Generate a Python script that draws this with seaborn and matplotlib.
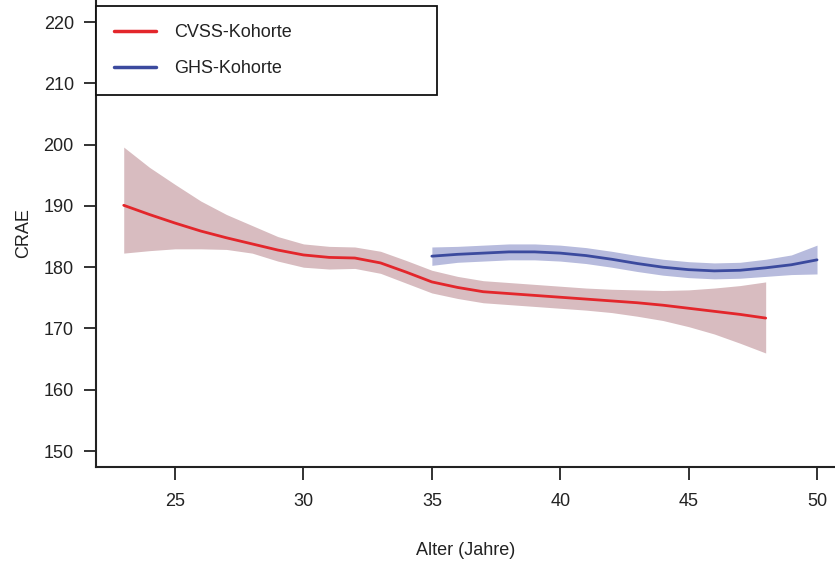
import numpy as np
import pandas as pd
import matplotlib
matplotlib.use("Agg")
import matplotlib.pyplot as plt
import seaborn as sns
from matplotlib.lines import Line2D

# ---- data ----
cvss_age = [23, 24, 25, 26, 27, 28, 29, 30, 31, 32, 33, 34, 35, 36, 37, 38, 39, 40,
            41, 42, 43, 44, 45, 46, 47, 48]
cvss_mean = [190.1, 188.6, 187.2, 185.9, 184.8, 183.8, 182.8, 182.0, 181.6, 181.5,
             180.7, 179.2, 177.6, 176.7, 176.0, 175.7, 175.4, 175.1, 174.8, 174.5,
             174.2, 173.8, 173.3, 172.8, 172.3, 171.7]
cvss_upper = [199.6, 196.3, 193.5, 190.8, 188.6, 186.8, 185.0, 183.8, 183.4, 183.3,
              182.6, 181.1, 179.5, 178.5, 177.8, 177.5, 177.2, 176.9, 176.6, 176.4,
              176.3, 176.2, 176.3, 176.6, 177.0, 177.6]
cvss_lower = [182.3, 182.7, 183.0, 183.0, 182.9, 182.3, 181.0, 180.0, 179.7, 179.8,
              179.0, 177.4, 175.8, 174.9, 174.2, 173.9, 173.6, 173.3, 173.0, 172.6,
              172.0, 171.3, 170.3, 169.1, 167.6, 166.0]

ghs_age = [35, 36, 37, 38, 39, 40, 41, 42, 43, 44, 45, 46, 47, 48, 49, 50]
ghs_mean = [181.8, 182.1, 182.3, 182.5, 182.5, 182.3, 181.9, 181.3, 180.6, 180.0,
            179.6, 179.4, 179.5, 179.9, 180.4, 181.2]
ghs_upper = [183.3, 183.4, 183.6, 183.8, 183.8, 183.6, 183.2, 182.6, 181.9, 181.3,
             180.9, 180.7, 180.8, 181.3, 182.0, 183.6]
ghs_lower = [180.3, 180.8, 181.0, 181.2, 181.2, 181.0, 180.6, 180.0, 179.3, 178.7,
             178.3, 178.1, 178.2, 178.5, 178.8, 178.9]

series_names = ["CVSS-Kohorte", "GHS-Kohorte"]
x_ticks = [25, 30, 35, 40, 45, 50]
y_ticks = [150, 160, 170, 180, 190, 200, 210, 220]
x_label = "Alter (Jahre)"
y_label = "CRAE"

# ---- styling ----
sns.set_theme(style="ticks")
plt.rcParams["font.family"] = ["Liberation Sans", "DejaVu Sans"]

line_colors = {"CVSS-Kohorte": "#e3262b", "GHS-Kohorte": "#3b4a9e"}
band_colors = {"CVSS-Kohorte": "#d8bcc0", "GHS-Kohorte": "#b7bbdd"}
txt = "#222222"
fs = 13

df = pd.concat([
    pd.DataFrame({"Alter": cvss_age, "CRAE": cvss_mean, "lo": cvss_lower,
                  "hi": cvss_upper, "Kohorte": series_names[0]}),
    pd.DataFrame({"Alter": ghs_age, "CRAE": ghs_mean, "lo": ghs_lower,
                  "hi": ghs_upper, "Kohorte": series_names[1]}),
], ignore_index=True)

fig = plt.figure(figsize=(8.35, 5.61), dpi=100)
ax = fig.add_axes([96 / 835, (561 - 467) / 561, 1 - 96 / 835, 467 / 561])

for name in series_names:
    sub = df[df["Kohorte"] == name]
    ax.fill_between(sub["Alter"], sub["lo"], sub["hi"], color=band_colors[name],
                    linewidth=0, zorder=1)

sns.lineplot(data=df, x="Alter", y="CRAE", hue="Kohorte", hue_order=series_names,
             palette=line_colors, linewidth=2.0, ax=ax, legend=False, zorder=3,
             sort=True, estimator=None)

ax.set_xlim(21.92, 50.7)
ax.set_ylim(147.4, 223.6)
ax.set_xticks(x_ticks)
ax.set_yticks(y_ticks)
ax.set_xticklabels([str(v) for v in x_ticks])
ax.set_yticklabels([str(v) for v in y_ticks])
ax.tick_params(axis="both", direction="out", length=9, width=1.3, colors=txt,
               labelsize=fs, labelcolor=txt)
ax.tick_params(axis="x", pad=10)
ax.tick_params(axis="y", pad=7)
for side in ["top", "right"]:
    ax.spines[side].set_visible(False)
for side in ["left", "bottom"]:
    ax.spines[side].set_linewidth(1.5)
    ax.spines[side].set_color(txt)

ax.set_xlabel(x_label, fontsize=fs, color=txt, labelpad=23)
ax.set_ylabel(y_label, fontsize=fs, color=txt, labelpad=8)

handles = [Line2D([0], [0], color=line_colors[n], linewidth=2.5) for n in series_names]
leg = ax.legend(handles, series_names, loc="upper left",
                bbox_to_anchor=(0.0, 0.0, 341 / 739, 1 - 6 / 467), mode="expand",
                borderaxespad=0.0, fontsize=13, frameon=True, fancybox=False,
                framealpha=1, edgecolor="#111111", labelspacing=1.05,
                borderpad=1.0, handlelength=2.35, handletextpad=1.0)
leg.get_frame().set_linewidth(1.3)
for t in leg.get_texts():
    t.set_color(txt)

fig.savefig("out.png", dpi=100)
